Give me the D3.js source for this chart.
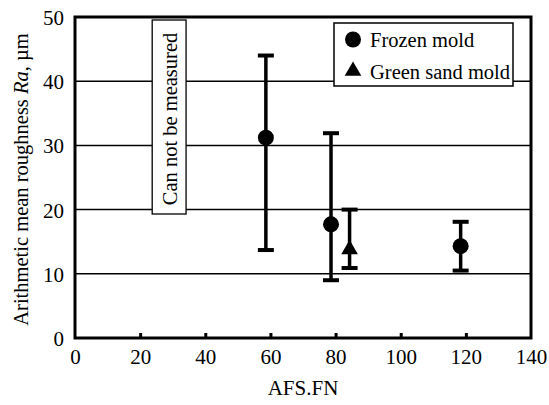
<!DOCTYPE html>
<html><head><meta charset="utf-8">
<script src="https://cdn.jsdelivr.net/npm/d3@7/dist/d3.min.js"></script>
</head><body><svg id="c" width="549" height="405"></svg>
<script>
const xTicks = [0, 20, 40, 60, 80, 100, 120, 140];
const yTicks = [0, 10, 20, 30, 40, 50];
const frozenX = [58.6, 78.6, 118.4];
const frozenY = [31.2, 17.7, 14.3];
const frozenHi = [44.0, 31.9, 18.1];
const frozenLo = [13.7, 9.0, 10.5];
const greenX = [84.3];
const greenY = [13.8];
const greenHi = [20.0];
const greenLo = [10.9];
const legendLabels = ["Frozen mold", "Green sand mold"];

const FONT = "Liberation Serif";
const W = 549, H = 405;
const m = {l: 75, r: 18, t: 17, b: 67};
d3.select("body").style("margin", "0px");
const svg = d3.select("#c").attr("font-family", FONT);
const x = d3.scaleLinear().domain([0, 140]).range([m.l, W - m.r]);
const y = d3.scaleLinear().domain([0, 50]).range([H - m.b, m.t]);

function ser(sel, size) {
  return sel.attr("font-family", FONT).style("font-family", FONT).style("font-size", size + "px").attr("fill", "#000");
}

// gridlines
svg.append("g").selectAll("line").data(yTicks.filter(d => d > 0 && d < 50)).join("line")
  .attr("x1", x(0)).attr("x2", x(140)).attr("y1", d => y(d)).attr("y2", d => y(d))
  .attr("stroke", "#000").attr("stroke-width", 1.5);

// x axis ticks (inward)
const xa = svg.append("g").attr("transform", `translate(0,${y(0)})`)
  .call(d3.axisBottom(x).tickValues(xTicks).tickSizeInner(-5).tickSizeOuter(0).tickPadding(26));
xa.attr("font-family", FONT).attr("font-size", 21);
xa.select(".domain").remove();
xa.selectAll(".tick line").attr("stroke", "#000").attr("stroke-width", 3)
  .filter(d => d === 0 || d === 140).remove();
ser(xa.selectAll(".tick text").attr("dy", "0"), 21);

const ya = svg.append("g").attr("transform", `translate(${x(0)},0)`)
  .call(d3.axisLeft(y).tickValues(yTicks).tickSize(0).tickPadding(11));
ya.attr("font-family", FONT).attr("font-size", 21);
ya.select(".domain").remove();
ser(ya.selectAll(".tick text").attr("dy", "0.36em"), 21);

// frame
svg.append("rect").attr("x", x(0)).attr("y", y(50)).attr("width", x(140) - x(0)).attr("height", y(0) - y(50))
  .attr("fill", "none").attr("stroke", "#000").attr("stroke-width", 3);

// annotation box
const bx0 = x(23.7), bx1 = x(34.1), by0 = 20, by1 = 214;
svg.append("rect").attr("x", bx0).attr("y", by0).attr("width", bx1 - bx0).attr("height", by1 - by0)
  .attr("fill", "#fff").attr("stroke", "#000").attr("stroke-width", 1.3);
ser(svg.append("text").attr("transform", `translate(${(bx0 + bx1) / 2 + 1},${(by0 + by1) / 2 + 2}) rotate(-90)`)
  .attr("text-anchor", "middle").attr("dominant-baseline", "central"), 20.5)
  .text("Can not be measured");

// error bars
function errbars(xs, lo, hi) {
  const g = svg.append("g").attr("stroke", "#000").attr("stroke-width", 3.5);
  xs.forEach((xv, i) => {
    g.append("line").attr("x1", x(xv)).attr("x2", x(xv)).attr("y1", y(lo[i])).attr("y2", y(hi[i]));
    [lo[i], hi[i]].forEach(v => g.append("line").attr("x1", x(xv) - 8).attr("x2", x(xv) + 8)
      .attr("y1", y(v)).attr("y2", y(v)).attr("stroke-width", 4));
  });
}
errbars(frozenX, frozenLo, frozenHi);
errbars(greenX, greenLo, greenHi);

svg.append("g").selectAll("circle").data(frozenX).join("circle")
  .attr("cx", d => x(d)).attr("cy", (d, i) => y(frozenY[i])).attr("r", 8).attr("fill", "#000");
const tri = d3.symbol().type(d3.symbolTriangle).size(120);
svg.append("g").selectAll("path").data(greenX).join("path")
  .attr("d", tri).attr("transform", (d, i) => `translate(${x(d)},${y(greenY[i])})`).attr("fill", "#000");

// legend
const lg = svg.append("g");
lg.append("rect").attr("x", 334).attr("y", 23).attr("width", 179).attr("height", 63)
  .attr("fill", "#fff").attr("stroke", "#000").attr("stroke-width", 1.5);
lg.append("circle").attr("cx", 353).attr("cy", 39.5).attr("r", 8).attr("fill", "#000");
lg.append("path").attr("d", tri).attr("transform", "translate(353,71)").attr("fill", "#000");
ser(lg.selectAll("text.l").data(legendLabels).join("text").attr("class", "l")
  .attr("x", 370).attr("y", (d, i) => 46.5 + i * 32), 20.5).text(d => d);

// axis titles
ser(svg.append("text").attr("x", (x(0) + x(140)) / 2).attr("y", 395).attr("text-anchor", "middle"), 21)
  .text("AFS.FN");
const yt = ser(svg.append("text").attr("transform", `translate(28,${(y(0) + y(50)) / 2 + 2}) rotate(-90)`)
  .attr("text-anchor", "middle"), 20.5);
yt.append("tspan").text("Arithmetic mean roughness ");
yt.append("tspan").style("font-style", "italic").text("Ra");
yt.append("tspan").text(", µm");
</script></body></html>
